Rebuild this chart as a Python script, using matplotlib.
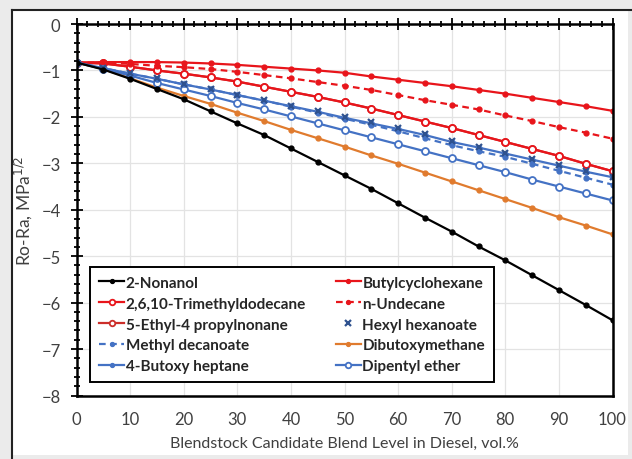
import numpy as np
import matplotlib.pyplot as plt
from matplotlib.patches import Rectangle
from matplotlib.lines import Line2D
from matplotlib.ticker import MultipleLocator

plt.rcParams['font.family'] = ['Lato', 'DejaVu Sans']

blend = [0, 5, 10, 15, 20, 25, 30, 35, 40, 45, 50, 55, 60, 65, 70, 75, 80, 85, 90, 95, 100]

nonanol = [-0.83, -0.98, -1.18, -1.40, -1.62, -1.88, -2.14, -2.39, -2.68, -2.97, -3.26,
           -3.55, -3.86, -4.17, -4.47, -4.79, -5.09, -5.41, -5.73, -6.05, -6.38]
butylcyclohexane = [-0.83, -0.82, -0.82, -0.82, -0.83, -0.85, -0.88, -0.92, -0.96, -1.00, -1.05,
                    -1.13, -1.20, -1.27, -1.34, -1.42, -1.50, -1.59, -1.68, -1.77, -1.87]
trimethyldodecane = [-0.83, -0.85, -0.92, -1.00, -1.07, -1.15, -1.24, -1.35, -1.46, -1.57, -1.69,
                     -1.82, -1.96, -2.10, -2.24, -2.39, -2.54, -2.69, -2.84, -3.01, -3.17]
ethylpropylnonane = [-0.83, -0.85, -0.92, -1.00, -1.07, -1.15, -1.24, -1.35, -1.46, -1.57, -1.69,
                     -1.82, -1.96, -2.10, -2.24, -2.39, -2.54, -2.69, -2.84, -3.01, -3.17]
undecane = [-0.83, -0.83, -0.86, -0.90, -0.93, -0.97, -1.03, -1.10, -1.17, -1.25, -1.33,
            -1.42, -1.53, -1.64, -1.74, -1.84, -1.97, -2.09, -2.22, -2.34, -2.47]
hexyl_hexanoate = [-0.83, -0.94, -1.06, -1.17, -1.29, -1.40, -1.52, -1.64, -1.76, -1.88, -2.00,
                   -2.12, -2.24, -2.37, -2.51, -2.64, -2.77, -2.90, -3.03, -3.16, -3.29]
methyl_decanoate = [-0.83, -0.95, -1.07, -1.18, -1.30, -1.41, -1.53, -1.65, -1.78, -1.91, -2.04,
                    -2.17, -2.31, -2.46, -2.61, -2.74, -2.86, -3.01, -3.16, -3.31, -3.46]
dibutoxymethane = [-0.83, -0.97, -1.17, -1.37, -1.55, -1.72, -1.91, -2.09, -2.28, -2.46, -2.64,
                   -2.83, -3.01, -3.20, -3.39, -3.58, -3.77, -3.96, -4.16, -4.34, -4.53]
butoxyheptane = [-0.83, -0.95, -1.07, -1.18, -1.30, -1.41, -1.53, -1.65, -1.77, -1.89, -2.02,
                 -2.14, -2.26, -2.39, -2.54, -2.66, -2.79, -2.92, -3.05, -3.18, -3.30]
dipentyl_ether = [-0.83, -0.97, -1.11, -1.27, -1.41, -1.55, -1.70, -1.84, -1.99, -2.14, -2.29,
                  -2.44, -2.59, -2.74, -2.89, -3.04, -3.19, -3.35, -3.50, -3.65, -3.80]

red = '#e8151b'
dark_red = '#cc2e2a'
blue = '#4472c4'
orange = '#e07b2e'

fig = plt.figure(figsize=(6.32, 4.6), dpi=100)
fig.patch.set_facecolor('#ebebeb')
# white chart area with a dark frame line on top and left
W, H = 632, 460
fig.patches.append(Rectangle((12 / W, 1 - 456 / H), 616 / W, 445 / H, transform=fig.transFigure,
                             facecolor='white', edgecolor='none', zorder=-2))
fig.lines.append(Line2D([12 / W, 1], [1 - 11 / H, 1 - 11 / H], transform=fig.transFigure,
                        color='#222222', lw=1.5, zorder=-1))
fig.lines.append(Line2D([12 / W, 12 / W], [1 - 11 / H, 0], transform=fig.transFigure,
                        color='#222222', lw=1.5, zorder=-1))

ax = fig.add_axes([76.5 / W, 1 - 396.5 / H, (612.5 - 76.5) / W, (396.5 - 25) / H])

ms_dot = 3.5
ms_open = 5
ax.plot(blend, nonanol, color='black', lw=1.6, marker='o', ms=ms_dot, label='2-Nonanol', zorder=5)
ax.plot(blend, butylcyclohexane, color=red, lw=1.6, marker='o', ms=ms_dot, label='Butylcyclohexane')
ax.plot(blend, ethylpropylnonane, color=dark_red, lw=1.6, marker='o', ms=ms_open, mfc='white',
        mew=1.3, label='5-Ethyl-4 propylnonane')
ax.plot(blend, trimethyldodecane, color=red, lw=1.6, marker='o', ms=ms_open, mfc='white',
        mew=1.3, label='2,6,10-Trimethyldodecane')
ax.plot(blend, undecane, color=red, lw=1.6, ls=(0, (3, 2)), marker='o', ms=ms_dot, label='n-Undecane')
ax.plot(blend, dibutoxymethane, color=orange, lw=1.6, marker='o', ms=ms_dot, label='Dibutoxymethane')
ax.plot(blend, dipentyl_ether, color=blue, lw=1.6, marker='o', ms=ms_open, mfc='white', mew=1.3,
        label='Dipentyl ether')
ax.plot(blend, methyl_decanoate, color=blue, lw=1.6, ls=(0, (3, 2)), marker='o', ms=ms_dot,
        label='Methyl decanoate')
ax.plot(blend, butoxyheptane, color=blue, lw=1.6, marker='o', ms=ms_dot, label='4-Butoxy heptane')
ax.plot(blend, hexyl_hexanoate, color='#2f528f', ls='none', marker='x', ms=5, mew=1.6,
        label='Hexyl hexanoate')

ax.set_xlim(0, 100)
ax.set_ylim(-8, 0)
ax.xaxis.set_major_locator(MultipleLocator(10))
ax.xaxis.set_minor_locator(MultipleLocator(2))
ax.yaxis.set_major_locator(MultipleLocator(1))
ax.yaxis.set_minor_locator(MultipleLocator(0.2))
ax.grid(True, which='major', color='#e3e3e3', lw=0.9)
ax.set_axisbelow(True)

for s in ax.spines.values():
    s.set_color('black')
    s.set_linewidth(1.8)

# x ticks sit on the zero line at the top, labels stay at the bottom
ax.tick_params(axis='x', which='both', top=True, bottom=False, labeltop=False, labelbottom=True,
               direction='inout', color='black', width=1.3)
ax.tick_params(axis='x', which='major', length=9, labelsize=12, labelcolor='#404040', pad=7)
ax.tick_params(axis='x', which='minor', length=5)
ax.tick_params(axis='y', which='both', left=True, right=False, direction='inout', color='black',
               width=1.3)
ax.tick_params(axis='y', which='major', length=9, labelsize=12, labelcolor='#404040', pad=7)
ax.tick_params(axis='y', which='minor', length=5)

ax.set_xlabel('Blendstock Candidate Blend Level in Diesel, vol.%', fontsize=11.5, color='#404040',
              labelpad=6)
ax.set_ylabel('Ro-Ra, MPa$^{1/2}$', fontsize=12.5, color='#404040', labelpad=5)

handles, labels = ax.get_legend_handles_labels()
order = ['2-Nonanol', '2,6,10-Trimethyldodecane', '5-Ethyl-4 propylnonane', 'Methyl decanoate',
         '4-Butoxy heptane', 'Butylcyclohexane', 'n-Undecane', 'Hexyl hexanoate',
         'Dibutoxymethane', 'Dipentyl ether']
hmap = dict(zip(labels, handles))
leg = ax.legend([hmap[k] for k in order], order, ncol=2, loc='lower left',
                bbox_to_anchor=(0.0254, 0.035, 0.754, 0.3), mode='expand', borderaxespad=0,
                fancybox=False, framealpha=1, edgecolor='black', handlelength=1.6,
                handletextpad=0.12, labelspacing=0.45, borderpad=0.6, markerscale=0.8,
                prop={'weight': 'bold', 'size': 11})
leg.get_frame().set_linewidth(1.4)
for t in leg.get_texts():
    t.set_color('#262626')

fig.savefig('out.png', dpi=100, facecolor=fig.get_facecolor())
